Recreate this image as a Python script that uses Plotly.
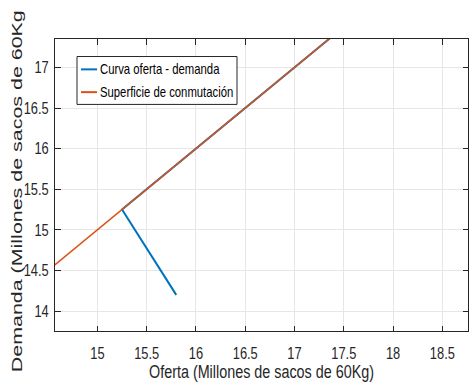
import plotly.graph_objects as go

# Supply/demand curve: falling branch meets the switching surface, then follows it
oferta_curva = [15.8, 15.25, 17.6]
demanda_curva = [14.2, 15.25, 17.6]

# Switching surface (demand = supply)
oferta_sup = [14.0, 18.0]
demanda_sup = [14.0, 18.0]

x_ticks = [15, 15.5, 16, 16.5, 17, 17.5, 18, 18.5]
y_ticks = [14, 14.5, 15, 15.5, 16, 16.5, 17]

serie_nombres = ["Curva oferta - demanda", "Superficie de conmutación"]
serie_colores = ["#0072BD", "#D95319"]

SANS = "Liberation Sans, Arial, Helvetica, sans-serif"
AXC = "#262626"

fig = go.Figure()
fig.add_trace(go.Scatter(x=oferta_curva, y=demanda_curva, mode="lines",
                         line=dict(color=serie_colores[0], width=2),
                         name=serie_nombres[0], showlegend=False))
fig.add_trace(go.Scatter(x=oferta_sup, y=demanda_sup, mode="lines",
                         line=dict(color=serie_colores[1], width=1.5),
                         name=serie_nombres[1], showlegend=False))

axis_common = dict(
    showline=True, linecolor=AXC, linewidth=1, mirror="ticks",
    ticks="inside", ticklen=5.5, tickcolor=AXC, tickwidth=1,
    showgrid=True, gridcolor="#e6e6e6", gridwidth=1,
    zeroline=False, tickfont=dict(family=SANS, size=16.5, color=AXC),
)

fig.update_xaxes(range=[14.57, 18.76], tickvals=x_ticks,
                 ticktext=[f"{v:g}" for v in x_ticks],
                 ticklabelstandoff=7,
                 title=dict(text="Oferta (Millones de sacos de 60Kg)",
                            font=dict(family=SANS, size=18, color=AXC),
                            standoff=4),
                 **axis_common)
fig.update_yaxes(range=[13.755, 17.35], tickvals=y_ticks,
                 ticktext=[f"{v:g}" for v in y_ticks],
                 ticklabelstandoff=2,
                 **axis_common)

# Legend drawn as a framed box with short line samples
lx0, lx1, ly0, ly1 = 0.0533, 0.4407, 0.776, 0.940
shapes = [dict(type="rect", xref="paper", yref="paper", x0=lx0, x1=lx1, y0=ly0, y1=ly1,
               line=dict(color=AXC, width=1), fillcolor="white", layer="above")]
annotations = []
for nombre, color, yy in zip(serie_nombres, serie_colores, [0.896, 0.818]):
    shapes.append(dict(type="line", xref="paper", yref="paper", x0=0.063, x1=0.1017,
                       y0=yy, y1=yy, line=dict(color=color, width=2), layer="above"))
    annotations.append(dict(xref="paper", yref="paper", x=0.104, y=yy, text=nombre,
                            showarrow=False, xanchor="left", yanchor="middle",
                            font=dict(family=SANS, size=14.5, color="black")))

# Vertical axis title
annotations.append(dict(xref="paper", yref="paper", x=-0.094, y=0.5, yshift=-6,
                        text="Demanda (Millones de sacos de 60Kg", textangle=-90,
                        showarrow=False, xanchor="center", yanchor="middle",
                        font=dict(family=SANS, size=15.5, color=AXC)))

fig.update_layout(
    width=469, height=387,
    margin=dict(l=55, r=1, t=38.5, b=56),
    paper_bgcolor="white", plot_bgcolor="white",
    shapes=shapes, annotations=annotations,
    showlegend=False,
)

# Horizontal text uses a condensed face; emulate it by fitting glyphs to a narrower length.
post = """
var gd = document.getElementById('{plot_id}');
function fit(el, len, keepLeft) {
  if (el.getAttribute('data-fit')) return;
  var w = el.getComputedTextLength();
  if (!w) return;
  el.setAttribute('data-fit', '1');
  el.setAttribute('lengthAdjust', 'spacingAndGlyphs');
  el.setAttribute('textLength', len.toFixed(2));
  if (keepLeft) {
    var shift = (w - len) / 2;
    var nodes = [el].concat(Array.prototype.slice.call(el.querySelectorAll('tspan[x]')));
    nodes.forEach(function(n) {
      if (n.hasAttribute('x')) n.setAttribute('x', (parseFloat(n.getAttribute('x')) - shift).toFixed(2));
    });
  }
}
function applyFit() {
  var k = 0.78;
  gd.querySelectorAll('.xtick text, .ytick text').forEach(function(t) {
    fit(t, t.getComputedTextLength() * k, false);
  });
  gd.querySelectorAll('.g-xtitle text').forEach(function(t) {
    fit(t, 225, false);
  });
  gd.querySelectorAll('.annotation').forEach(function(g) {
    var idx = g.getAttribute('data-index');
    var t = g.querySelector('text.annotation-text');
    if (!t) return;
    if (idx === '2') fit(t, 362, false);
    else fit(t, t.getComputedTextLength() * k, true);
  });
}
applyFit();
"""

fig.write_html("out.html", post_script=post)
